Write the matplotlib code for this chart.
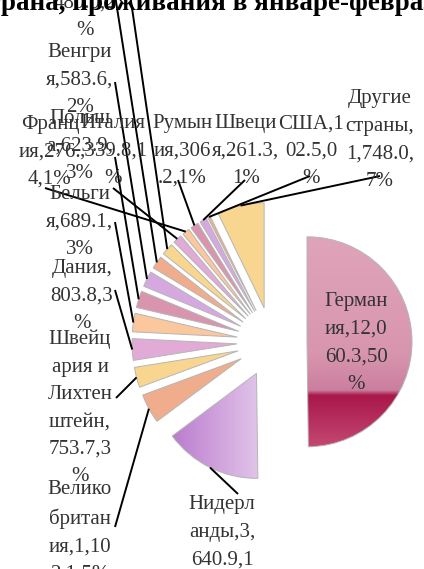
import matplotlib

matplotlib.use("Agg")
import matplotlib.pyplot as plt
import numpy as np
from matplotlib.colors import LinearSegmentedColormap

W, H = 424, 569

countries = ["Германия", "Нидерланды", "Великобритания", "Швейцария и Лихтенштейн",
             "Дания", "Бельгия", "Польша", "Венгрия", "Чехия", "Россия", "Италия",
             "Франция", "Румыния", "Швеция", "США", "Другие страны"]
values = [12060.3, 3640.9, 1102.1, 753.7, 803.8, 689.1, 623.9, 583.6, 480.0, 450.2,
          339.8, 276.4, 306.2, 261.3, 102.5, 1748.0]
# how Excel wrapped each data label (chars per line, rest goes on the last line)
wraps = [[6, 7, 7], [6, 7, 7], [6, 6, 7], [5, 6, 7, 6, 7], [6, 7], [6, 8], [5, 8],
         [6, 8], [6, 7], [7, 7], [6, 8], [5, 7], [5, 6], [5, 8], [5, 6], [6, 8, 8]]
title = "Ночёвки иностранных туристов, страна, проживания в январе-феврале 2019 г."
title_cut = "Ночёвки иностранных туристов, ст"   # part that falls left of the canvas

palette = ["#d995ae", "#d5a9e0", "#f0ad8e", "#f9d690", "#e2aad6", "#fbc79d"]

# layout in pixels (top-left origin): label centres and leader-line starts
label_xy = [(356, 343), (222, 546), (80, 532), (80, 408), (82, 296), (80, 222),
            (80, 146), (80, 80), (85, 3), (92, -72), (113, 151), (50, 152),
            (182, 151), (246, 151), (311, 151), (380, 140)]
line_from = [None, (238, 494), (115, 527), (116, 398), (115, 290), (115, 222),
             (115, 157), (115, 82), (115, -5), (125, -40), (113, 188), (45, 188),
             (178, 180), (245, 180), (310, 176), (380, 176)]


def Y(y):
    return H - y


def make_label(name, val, pct, widths):
    s = f"{name},{val:,.1f},{pct}%"
    out, i = [], 0
    for w in widths:
        out.append(s[i:i + w].strip())
        i += w
    out.append(s[i:].strip())
    return "\n".join(out)


def gradient_fill(ax, wedge, stops, vertical):
    bb = wedge.get_path().get_extents()
    cmap = LinearSegmentedColormap.from_list("g", stops)
    if vertical:
        grad = np.linspace(1, 0, 256)[:, None]
    else:
        grad = np.linspace(0, 1, 256)[None, :]
    im = ax.imshow(grad, cmap=cmap, vmin=0, vmax=1, origin="lower", aspect="auto",
                   extent=[bb.x0, bb.x1, bb.y0, bb.y1], zorder=0.5, interpolation="bilinear")
    im.set_clip_path(wedge)
    wedge.set_facecolor("none")


fig = plt.figure(figsize=(W / 100, H / 100), dpi=100)
ax = fig.add_axes([0, 0, 1, 1])

total = sum(values)
pcts = [int(round(v / total * 100)) for v in values]
colors = [palette[i % len(palette)] for i in range(len(values))]

wedges, _ = ax.pie(values, center=(272, Y(342)), radius=105, startangle=90,
                   counterclock=False, explode=[35] * len(values), colors=colors,
                   wedgeprops=dict(edgecolor="#b5b5b5", linewidth=0.7))

gradient_fill(ax, wedges[0], [(0, "#dfa4ba"), (0.55, "#d896ae"), (0.73, "#cb7f9f"),
                              (0.755, "#a9174b"), (1, "#c44872")], vertical=True)
gradient_fill(ax, wedges[1], [(0, "#b97ccd"), (0.5, "#cfa0dc"), (1, "#e0c4e9")],
              vertical=False)

for i, w in enumerate(wedges):
    txt = make_label(countries[i], values[i], pcts[i], wraps[i])
    lx, ly = label_xy[i]
    ax.text(lx, Y(ly), txt, ha="center", va="center", multialignment="center",
            fontsize=15, family="Liberation Serif", color="#333333", linespacing=1.6)
    if line_from[i] is None:
        continue
    tm = np.deg2rad((w.theta1 + w.theta2) / 2)
    ex = w.center[0] + w.r * np.cos(tm)
    ey = w.center[1] + w.r * np.sin(tm)
    sx, sy = line_from[i]
    ax.plot([sx, ex], [Y(sy), ey], color="black", linewidth=1.4, solid_capstyle="butt")

ax.set_xlim(0, W)
ax.set_ylim(0, H)
ax.set_aspect("auto")
ax.axis("off")

tkw = dict(fontsize=19.5, family="Liberation Serif", fontweight="bold", color="black")
renderer = fig.canvas.get_renderer()
probe = fig.text(0, 0, title_cut, **tkw)
cut_w = probe.get_window_extent(renderer).width
probe.remove()
fig.text(-cut_w / W, 1 - 10 / H, title, ha="left", va="baseline", **tkw)

fig.savefig("out.png", dpi=100)
